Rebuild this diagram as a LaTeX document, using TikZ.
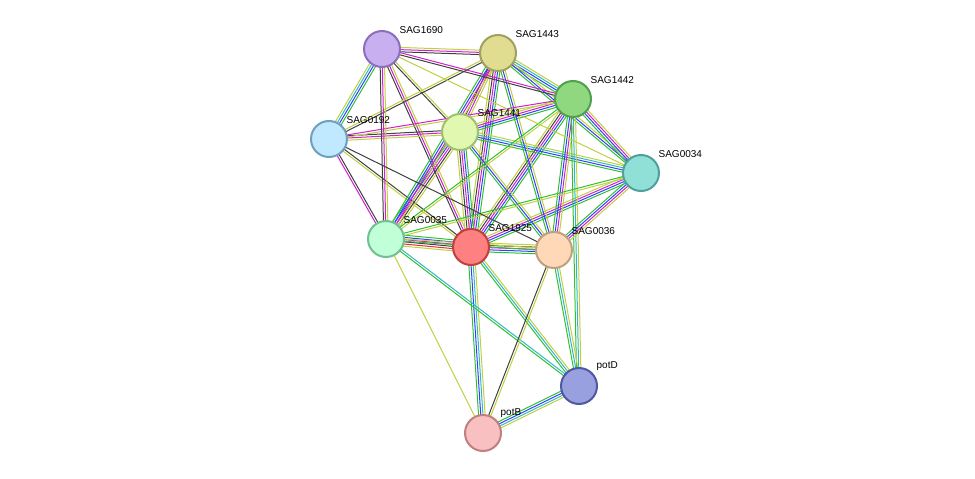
\documentclass[tikz,border=0pt]{standalone}
\usepackage{fontspec}
\setmainfont{Liberation Sans}
\usetikzlibrary{calc}
\definecolor{sgreen}{HTML}{30C030}
\definecolor{sblue}{HTML}{3040FF}
\definecolor{smag}{HTML}{D020D0}
\definecolor{syel}{HTML}{C0D040}
\definecolor{scyan}{HTML}{30B8C8}
\definecolor{sblack}{HTML}{404040}
\definecolor{sred}{HTML}{E03030}
\newcommand{\ppiedge}[3]{%
  \foreach \c [count=\i] in {#3} {\xdef\nlines{\i}}%
  \foreach \c [count=\i] in {#3} {%
    \pgfmathsetmacro{\off}{(\i-(\nlines+1)/2)*2.2}%
    \draw[\c, line width=1pt] ($(#1)!\off pt!90:(#2)$) -- ($(#2)!\off pt!-90:(#1)$);
  }}
\begin{document}
\begin{tikzpicture}[x=1pt,y=-1pt,
    prot/.style={circle, minimum size=36pt, line width=2pt, inner sep=0pt},
    lbl/.style={font=\fontsize{10}{11}\selectfont, anchor=south west, inner sep=1pt}]
  \useasboundingbox (0,0) rectangle (975,479);
  % node positions
  \coordinate (p1690) at (382,49);
  \coordinate (p1443) at (498,53);
  \coordinate (p1442) at (573,99);
  \coordinate (p0192) at (329,139);
  \coordinate (p1441) at (460,132);
  \coordinate (p0034) at (641,173);
  \coordinate (p0035) at (386,239);
  \coordinate (p1925) at (471,247);
  \coordinate (p0036) at (554,250);
  \coordinate (ppotD) at (579,386);
  \coordinate (ppotB) at (483,433);
  % edges
  \ppiedge{p1925}{p1690}{syel,smag,sblack}
  \ppiedge{p1925}{p1443}{sgreen,sblue,smag,sblack,syel}
  \ppiedge{p1925}{p1442}{sgreen,sblue,smag,sblack,syel}
  \ppiedge{p1925}{p0192}{sblack,syel}
  \ppiedge{p1925}{p1441}{sgreen,sblue,smag,sblack,syel}
  \ppiedge{p1925}{p0034}{sgreen,sblue,smag,syel}
  \ppiedge{p1925}{p0035}{sgreen,sblue,smag,sblack,sred,syel}
  \ppiedge{p1925}{p0036}{sgreen,sblue,smag,sblack,syel}
  \ppiedge{p1925}{ppotD}{sgreen,scyan,syel}
  \ppiedge{p1925}{ppotB}{sgreen,sblue,scyan,syel}
  \ppiedge{p1441}{p1690}{syel,sblack}
  \ppiedge{p1441}{p1443}{syel,smag,sblack}
  \ppiedge{p1441}{p1442}{sgreen,sblue,smag,syel}
  \ppiedge{p1441}{p0192}{sblack,smag,syel}
  \ppiedge{p1441}{p0034}{sgreen,sblue,scyan,syel}
  \ppiedge{p1441}{p0035}{sgreen,sblue,smag,sblack,syel}
  \ppiedge{p1441}{p0036}{sgreen,sblue,syel}
  \ppiedge{p1443}{p1690}{syel,smag,sblack}
  \ppiedge{p1443}{p1442}{sgreen,sblue,scyan,syel}
  \ppiedge{p1443}{p0192}{syel,sblack}
  \ppiedge{p1443}{p0035}{sgreen,sblue,smag,syel}
  \ppiedge{p1443}{p0036}{sgreen,sblue,syel}
  \ppiedge{p1443}{p0034}{sgreen,sblue,syel}
  \ppiedge{p1442}{p1690}{smag,sblack}
  \ppiedge{p1442}{p0192}{smag,syel}
  \ppiedge{p1442}{p0034}{sgreen,sblue,smag,syel}
  \ppiedge{p1442}{p0035}{sgreen,syel}
  \ppiedge{p1442}{p0036}{sgreen,sblue,smag,syel}
  \ppiedge{p1442}{ppotD}{sgreen,scyan,syel}
  \ppiedge{p0034}{p0035}{sgreen,syel}
  \ppiedge{p0034}{p0036}{sgreen,sblue,smag,syel}
  \ppiedge{p0034}{p1690}{syel}
  \ppiedge{p0192}{p1690}{sgreen,sblue,scyan,syel}
  \ppiedge{p0035}{p0192}{sblack,smag}
  \ppiedge{p0035}{p1690}{syel,smag,sblack}
  \ppiedge{p0035}{p0036}{sgreen,syel}
  \ppiedge{p0035}{ppotD}{sgreen,scyan}
  \ppiedge{p0035}{ppotB}{syel}
  \ppiedge{p0036}{ppotD}{sgreen,scyan,syel}
  \ppiedge{p0036}{ppotB}{sblack,syel}
  \ppiedge{p0036}{p0192}{sblack}
  \ppiedge{ppotD}{ppotB}{sgreen,sblue,scyan,syel}
  % proteins
  \node[prot, fill={rgb,255:red,200;green,176;blue,240}, draw={rgb,255:red,140;green,110;blue,190}] (SAG1690) at (p1690) {};
  \node[prot, fill={rgb,255:red,224;green,220;blue,144}, draw={rgb,255:red,160;green,160;blue,96}] (SAG1443) at (p1443) {};
  \node[prot, fill={rgb,255:red,144;green,216;blue,128}, draw={rgb,255:red,80;green,160;blue,80}] (SAG1442) at (p1442) {};
  \node[prot, fill={rgb,255:red,192;green,232;blue,255}, draw={rgb,255:red,112;green,160;blue,192}] (SAG0192) at (p0192) {};
  \node[prot, fill={rgb,255:red,224;green,248;blue,176}, draw={rgb,255:red,160;green,192;blue,112}] (SAG1441) at (p1441) {};
  \node[prot, fill={rgb,255:red,144;green,224;blue,216}, draw={rgb,255:red,80;green,160;blue,160}] (SAG0034) at (p0034) {};
  \node[prot, fill={rgb,255:red,192;green,255;blue,216}, draw={rgb,255:red,112;green,192;blue,144}] (SAG0035) at (p0035) {};
  \node[prot, fill={rgb,255:red,255;green,128;blue,128}, draw={rgb,255:red,192;green,64;blue,64}] (SAG1925) at (p1925) {};
  \node[prot, fill={rgb,255:red,255;green,216;blue,184}, draw={rgb,255:red,192;green,160;blue,128}] (SAG0036) at (p0036) {};
  \node[prot, fill={rgb,255:red,152;green,160;blue,224}, draw={rgb,255:red,80;green,88;blue,160}] (potD) at (ppotD) {};
  \node[prot, fill={rgb,255:red,248;green,192;blue,192}, draw={rgb,255:red,192;green,128;blue,128}] (potB) at (ppotB) {};
  % labels
  \foreach \n in {SAG1690,SAG1443,SAG1442,SAG0192,SAG1441,SAG0034,SAG0035,SAG1925,SAG0036,potD,potB}
    \node[lbl] at ([xshift=3pt,yshift=1pt]\n.north east) {\n};
\end{tikzpicture}
\end{document}
